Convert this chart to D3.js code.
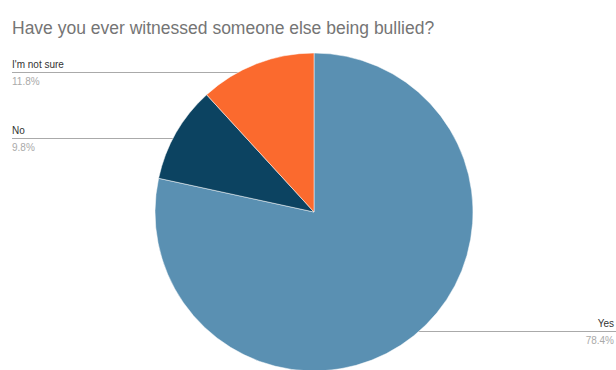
<!DOCTYPE html>
<html>
<head>
<meta charset="utf-8">
<script src="https://cdn.jsdelivr.net/npm/d3@7"></script>
<style>
  html, body { margin: 0; padding: 0; background: #fff; }
  svg { display: block; font-family: "Liberation Sans", Arial, sans-serif; }
</style>
</head>
<body>
<svg id="chart" width="616" height="370"></svg>
<script>
const title = "Have you ever witnessed someone else being bullied?";
const categories = ["Yes", "No", "I'm not sure"];
const values = [78.4, 9.8, 11.8];
const pctLabels = ["78.4%", "9.8%", "11.8%"];
const colors = ["#5a90b2", "#0c4361", "#fb6a2e"];

const W = 616, H = 370;
const cx = 314, cy = 212, R = 159;
const svg = d3.select("#chart");

svg.append("text")
  .attr("x", 12).attr("y", 34)
  .attr("font-size", 17.5)
  .attr("fill", "#757575")
  .text(title);

const data = categories.map((c, i) => ({ name: c, value: values[i], pct: pctLabels[i], color: colors[i] }));
const pie = d3.pie().value(d => d.value).sort(null);
const arcs = pie(data);
const arc = d3.arc().innerRadius(0).outerRadius(R);

const gLines = svg.append("g");
const gPie = svg.append("g").attr("transform", `translate(${cx},${cy})`);

gPie.selectAll("path").data(arcs).enter().append("path")
  .attr("d", arc)
  .attr("fill", d => d.data.color)
  .attr("stroke", "#fff")
  .attr("stroke-width", 0.5);

arcs.forEach(a => {
  const mid = (a.startAngle + a.endAngle) / 2;
  const px = cx + Math.sin(mid) * R * 0.95;
  const py = Math.round(cy - Math.cos(mid) * R * 0.95) + 1.5;
  const left = Math.sin(mid) < 0;
  const x1 = left ? 12 : W;
  gLines.append("line")
    .attr("x1", x1).attr("x2", px)
    .attr("y1", py).attr("y2", py)
    .attr("stroke", "#aaaaaa").attr("stroke-width", 1.2);
  const tx = left ? 12 : W - 2;
  const anchor = left ? "start" : "end";
  svg.append("text")
    .attr("x", tx).attr("y", py - 5)
    .attr("text-anchor", anchor)
    .attr("font-size", 10)
    .attr("fill", "#333")
    .text(a.data.name);
  svg.append("text")
    .attr("x", tx).attr("y", py + 12)
    .attr("text-anchor", anchor)
    .attr("font-size", 10)
    .attr("fill", "#aaaaaa")
    .text(a.data.pct);
});
</script>
</body>
</html>
